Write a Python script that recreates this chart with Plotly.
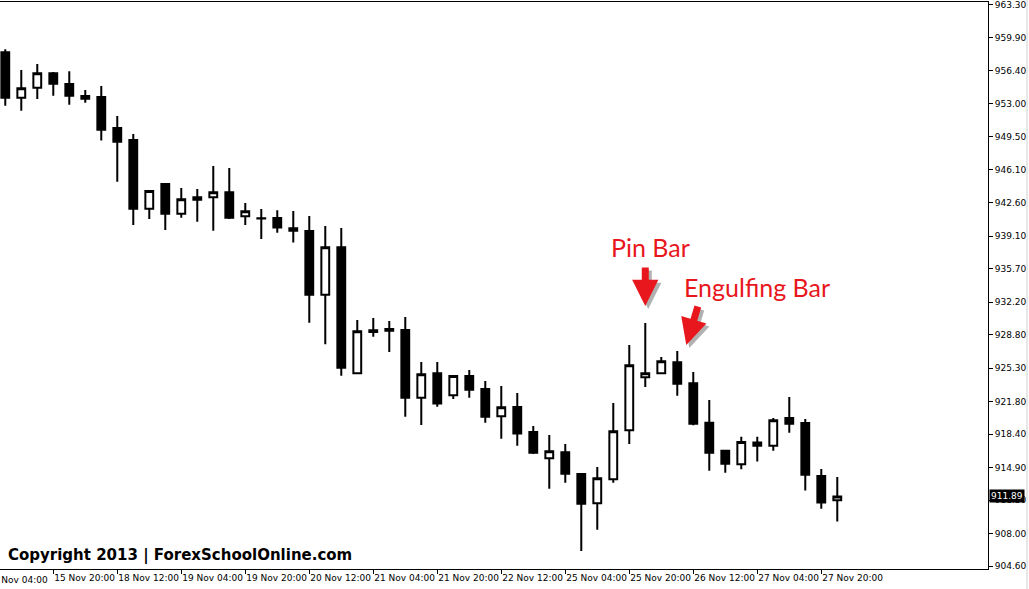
import plotly.graph_objects as go

# 4-hour bars
times = [
    "15 Nov 08:00", "15 Nov 12:00", "15 Nov 16:00", "15 Nov 20:00",
    "18 Nov 00:00", "18 Nov 04:00", "18 Nov 08:00", "18 Nov 12:00", "18 Nov 16:00", "18 Nov 20:00",
    "19 Nov 00:00", "19 Nov 04:00", "19 Nov 08:00", "19 Nov 12:00", "19 Nov 16:00", "19 Nov 20:00",
    "20 Nov 00:00", "20 Nov 04:00", "20 Nov 08:00", "20 Nov 12:00", "20 Nov 16:00", "20 Nov 20:00",
    "21 Nov 00:00", "21 Nov 04:00", "21 Nov 08:00", "21 Nov 12:00", "21 Nov 16:00", "21 Nov 20:00",
    "22 Nov 00:00", "22 Nov 04:00", "22 Nov 08:00", "22 Nov 12:00", "22 Nov 16:00", "22 Nov 20:00",
    "25 Nov 00:00", "25 Nov 04:00", "25 Nov 08:00", "25 Nov 12:00", "25 Nov 16:00", "25 Nov 20:00",
    "26 Nov 00:00", "26 Nov 04:00", "26 Nov 08:00", "26 Nov 12:00", "26 Nov 16:00", "26 Nov 20:00",
    "27 Nov 00:00", "27 Nov 04:00", "27 Nov 08:00", "27 Nov 12:00", "27 Nov 16:00", "27 Nov 20:00",
    "28 Nov 00:00",
]

opens = [958.35, 953.60, 954.65, 956.15, 955.04, 953.78, 953.68, 950.43, 949.18, 941.99,
         944.58, 941.47, 942.93, 943.18, 943.71, 941.20, 941.00, 941.02, 939.94, 939.66,
         933.00, 937.95, 924.77, 929.27, 929.41, 929.30, 922.22, 924.77, 922.47, 924.49,
         923.13, 920.28, 921.25, 918.63, 915.88, 916.51, 914.24, 911.18, 913.69, 918.81,
         924.36, 924.77, 925.93, 923.73, 919.61, 916.68, 915.26, 917.52, 917.20, 920.10,
         919.58, 914.03, 911.49]
highs = [958.67, 956.50, 957.13, 956.29, 956.36, 954.41, 954.83, 951.69, 949.81, 943.95,
         944.65, 944.16, 944.05, 946.46, 946.25, 942.59, 941.96, 941.82, 941.75, 941.23,
         940.18, 939.97, 930.35, 930.56, 930.25, 930.66, 925.96, 925.96, 924.55, 925.12,
         923.97, 923.45, 922.71, 919.26, 918.32, 917.38, 914.30, 914.97, 921.67, 927.74,
         930.04, 926.48, 927.11, 924.91, 921.98, 916.75, 918.14, 918.14, 920.10, 922.30,
         919.99, 914.76, 913.93]
lows = [952.77, 952.24, 953.47, 953.81, 952.87, 953.08, 949.11, 944.82, 940.29, 940.92,
        939.76, 941.05, 940.63, 939.69, 940.92, 940.29, 938.82, 939.48, 938.44, 930.07,
        927.81, 924.52, 924.70, 928.60, 927.00, 920.23, 919.37, 921.28, 922.09, 922.22,
        919.61, 917.93, 917.20, 916.33, 912.70, 913.33, 906.19, 908.41, 913.33, 917.38,
        923.34, 924.70, 922.43, 919.34, 914.59, 914.38, 914.73, 915.54, 916.68, 918.56,
        912.50, 910.61, 909.28]
closes = [953.60, 954.59, 956.15, 955.07, 953.81, 953.50, 950.26, 949.00, 941.99, 943.84,
          941.47, 942.98, 943.18, 943.71, 941.05, 941.72, 940.96, 940.01, 939.69, 933.00,
          937.95, 925.36, 929.17, 929.10, 929.23, 922.22, 924.67, 921.60, 924.49, 923.06,
          920.23, 921.22, 918.48, 916.47, 916.62, 914.27, 911.13, 913.79, 918.71, 925.61,
          924.77, 926.03, 923.69, 919.50, 916.47, 915.32, 917.59, 917.20, 919.86, 919.50,
          914.17, 911.25, 911.89]

x_tick_labels = ["15 Nov 20:00", "18 Nov 12:00", "19 Nov 04:00", "19 Nov 20:00",
                 "20 Nov 12:00", "21 Nov 04:00", "21 Nov 20:00", "22 Nov 12:00",
                 "25 Nov 04:00", "25 Nov 20:00", "26 Nov 12:00", "27 Nov 04:00",
                 "27 Nov 20:00"]
first_cut_label = "15 Nov 04:00"   # bar just before the visible window
y_tick_values = [963.30, 959.90, 956.40, 953.00, 949.50, 946.10, 942.60, 939.10, 935.70,
                 932.20, 928.80, 925.30, 921.80, 918.40, 914.90, 911.50, 908.00, 904.60]

pin_bar = "26 Nov 00:00"
engulfing_bar = "26 Nov 08:00"

TICK_FONT = dict(family="DejaVu Sans", size=9, color="black")
RED = "#e8171d"
X_RANGE = [-0.33, 61.42]

fig = go.Figure(go.Candlestick(
    x=times, open=opens, high=highs, low=lows, close=closes,
    increasing=dict(fillcolor="white", line=dict(color="black", width=2)),
    decreasing=dict(fillcolor="black", line=dict(color="black", width=2)),
    whiskerwidth=0,
    showlegend=False,
    hoverinfo="x+y",
))

pin_i = times.index(pin_bar)
eng_i = times.index(engulfing_bar)
cut_x_paper = (-1 - X_RANGE[0]) / (X_RANGE[1] - X_RANGE[0])

annotations = [
    # last price box
    dict(x=1, xref="paper", xanchor="left", xshift=1, y=closes[-1], yref="y",
         text=f"{closes[-1]:.2f}", showarrow=False, bgcolor="black",
         font=dict(family="DejaVu Sans", size=9, color="white"), borderpad=1),
    # cut-off first time label
    dict(x=cut_x_paper, xref="paper", xanchor="left", xshift=-4, y=0, yref="paper",
         yanchor="top", yshift=-4, text=first_cut_label, showarrow=False, font=TICK_FONT),
    # copyright
    dict(x=0, xref="paper", xanchor="left", xshift=6, y=0, yref="paper", yanchor="bottom",
         yshift=2, text="<b>Copyright 2013 | ForexSchoolOnline.com</b>", showarrow=False,
         font=dict(family="DejaVu Sans", size=15, color="black")),
    # labels
    dict(x=pin_bar, xref="x", y=highs[pin_i], yref="y", xshift=5, yshift=76,
         text="Pin Bar", showarrow=False, font=dict(family="Lato", size=25, color=RED)),
    dict(x=engulfing_bar, xref="x", y=highs[eng_i], yref="y", xshift=80, yshift=64,
         text="Engulfing Bar", showarrow=False, font=dict(family="Lato", size=25, color=RED)),
]
# arrow shadows then arrows
for col, dx, dy in [("rgba(0,0,0,0.30)", 3, -3), (RED, 0, 0)]:
    annotations.append(dict(x=pin_bar, xref="x", y=highs[pin_i], yref="y",
                            xshift=dx, yshift=17 + dy, ax=0, ay=-40, text="",
                            showarrow=True, arrowhead=2, arrowsize=0.75, arrowwidth=7,
                            arrowcolor=col))
    annotations.append(dict(x=engulfing_bar, xref="x", y=highs[eng_i], yref="y",
                            xshift=9 + dx, yshift=6 + dy, ax=12, ay=-40, text="",
                            showarrow=True, arrowhead=2, arrowsize=0.75, arrowwidth=7,
                            arrowcolor=col))

fig.update_layout(
    width=1029, height=589,
    margin=dict(l=0, r=41, t=2, b=20),
    paper_bgcolor="white", plot_bgcolor="white",
    annotations=annotations,
    shapes=[dict(type="line", xref="paper", yref="paper", x0=1.0395, x1=1.0395,
                 y0=-0.05, y1=1.01, line=dict(color="#d0d0d0", width=1))],
    xaxis=dict(
        type="category", categoryorder="array", categoryarray=times,
        range=X_RANGE, rangeslider=dict(visible=False),
        tickmode="array", tickvals=x_tick_labels, ticktext=x_tick_labels,
        ticks="outside", ticklen=4, tickcolor="black", tickwidth=1,
        ticklabelposition="outside right", tickangle=0, automargin=False,
        showline=True, linecolor="black", linewidth=1, mirror=True,
        showgrid=False, zeroline=False, tickfont=TICK_FONT,
    ),
    yaxis=dict(
        side="right", range=[904.3, 963.61], automargin=False,
        tickmode="array", tickvals=y_tick_values,
        ticktext=[f"{v:.2f}" for v in y_tick_values],
        ticks="outside", ticklen=4, tickcolor="black", tickwidth=1,
        showline=True, linecolor="black", linewidth=1, mirror=True,
        showgrid=False, zeroline=False, tickfont=TICK_FONT,
    ),
)

fig.write_html("out.html", config={"displayModeBar": False},
               post_script="document.body.style.margin='0';document.body.style.overflow='hidden';")
